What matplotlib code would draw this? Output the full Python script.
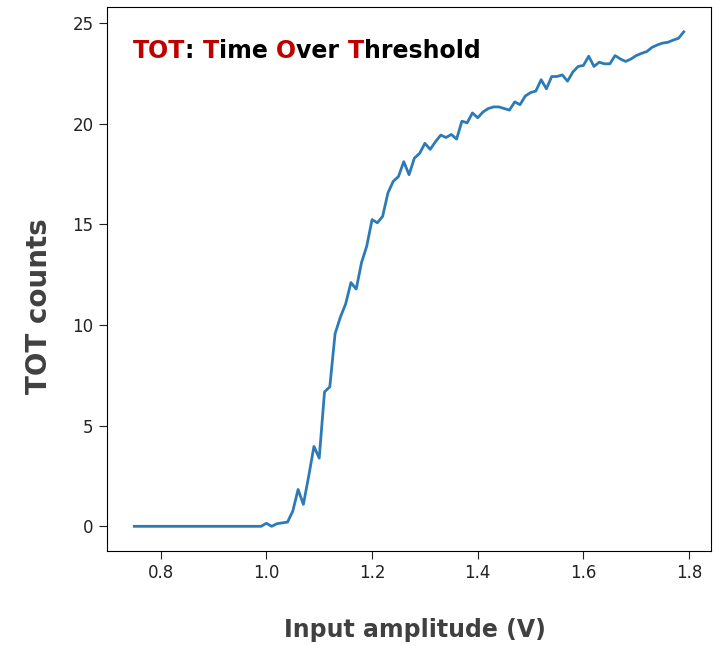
import numpy as np
import matplotlib
matplotlib.use('Agg')
import matplotlib.pyplot as plt
from matplotlib.transforms import offset_copy

# input amplitude sweep, 10 mV steps from 0.75 V to 1.79 V
amplitude = np.round(np.arange(75, 180) / 100, 2)

tot_counts = [
    # 0.75 - 0.99
    0.0, 0.0, 0.0, 0.0, 0.0, 0.0, 0.0, 0.0, 0.0, 0.0,
    0.0, 0.0, 0.0, 0.0, 0.0, 0.0, 0.0, 0.0, 0.0, 0.0,
    0.0, 0.0, 0.0, 0.0, 0.0,
    # 1.00 - 1.09
    0.15, 0.0, 0.13, 0.17, 0.21, 0.76, 1.83, 1.09, 2.48, 3.97,
    # 1.10 - 1.19
    3.39, 6.68, 6.93, 9.57, 10.39, 11.05, 12.11, 11.79, 13.10, 13.93,
    # 1.20 - 1.29
    15.24, 15.08, 15.40, 16.56, 17.14, 17.38, 18.12, 17.47, 18.29, 18.53,
    # 1.30 - 1.39
    19.03, 18.73, 19.11, 19.44, 19.32, 19.47, 19.24, 20.13, 20.05, 20.54,
    # 1.40 - 1.49
    20.30, 20.59, 20.76, 20.84, 20.84, 20.76, 20.68, 21.09, 20.95, 21.38,
    # 1.50 - 1.59
    21.55, 21.63, 22.19, 21.74, 22.35, 22.35, 22.43, 22.12, 22.57, 22.85,
    # 1.60 - 1.69
    22.90, 23.36, 22.85, 23.06, 22.98, 22.98, 23.39, 23.22, 23.10, 23.22,
    # 1.70 - 1.79
    23.39, 23.50, 23.59, 23.80, 23.92, 24.01, 24.05, 24.16, 24.25, 24.57,
]

x_ticks = [0.8, 1.0, 1.2, 1.4, 1.6, 1.8]
y_ticks = [0, 5, 10, 15, 20, 25]

title_parts = [('TOT', '#c00000'), (': ', 'black'), ('T', '#c00000'), ('ime ', 'black'),
               ('O', '#c00000'), ('ver ', 'black'), ('T', '#c00000'), ('hreshold', 'black')]

plt.rcParams['font.family'] = ['DejaVu Sans']

fig = plt.figure(figsize=(7.17, 6.46), dpi=100)
ax = fig.add_axes([0.149, 0.147, 0.843, 0.842])

ax.plot(amplitude, tot_counts, color='#2c7bb6', lw=2)

ax.set_xticks(x_ticks)
ax.set_yticks(y_ticks)
ax.set_xticklabels([f'{t:.1f}' for t in x_ticks])
ax.tick_params(labelsize=12, colors='#222222', length=6)
ax.set_xlabel('Input amplitude (V)', fontsize=17, fontweight='bold', color='#404040', va='center')
ax.set_ylabel('TOT counts', fontsize=20, fontweight='bold', color='#404040', va='center')
ax.xaxis.set_label_coords(0.51, -0.145)
ax.yaxis.set_label_coords(-0.112, 0.45)

# multi-coloured title inside the axes
fig.canvas.draw()
renderer = fig.canvas.get_renderer()
dx = 0
for s, c in title_parts:
    t = ax.text(0.043, 0.92, s, transform=offset_copy(ax.transAxes, fig=fig, x=dx, y=0, units='dots'),
                fontsize=17, fontweight='bold', color=c, va='center', ha='left')
    dx += t.get_window_extent(renderer).width

fig.savefig('out.png', dpi=100)
